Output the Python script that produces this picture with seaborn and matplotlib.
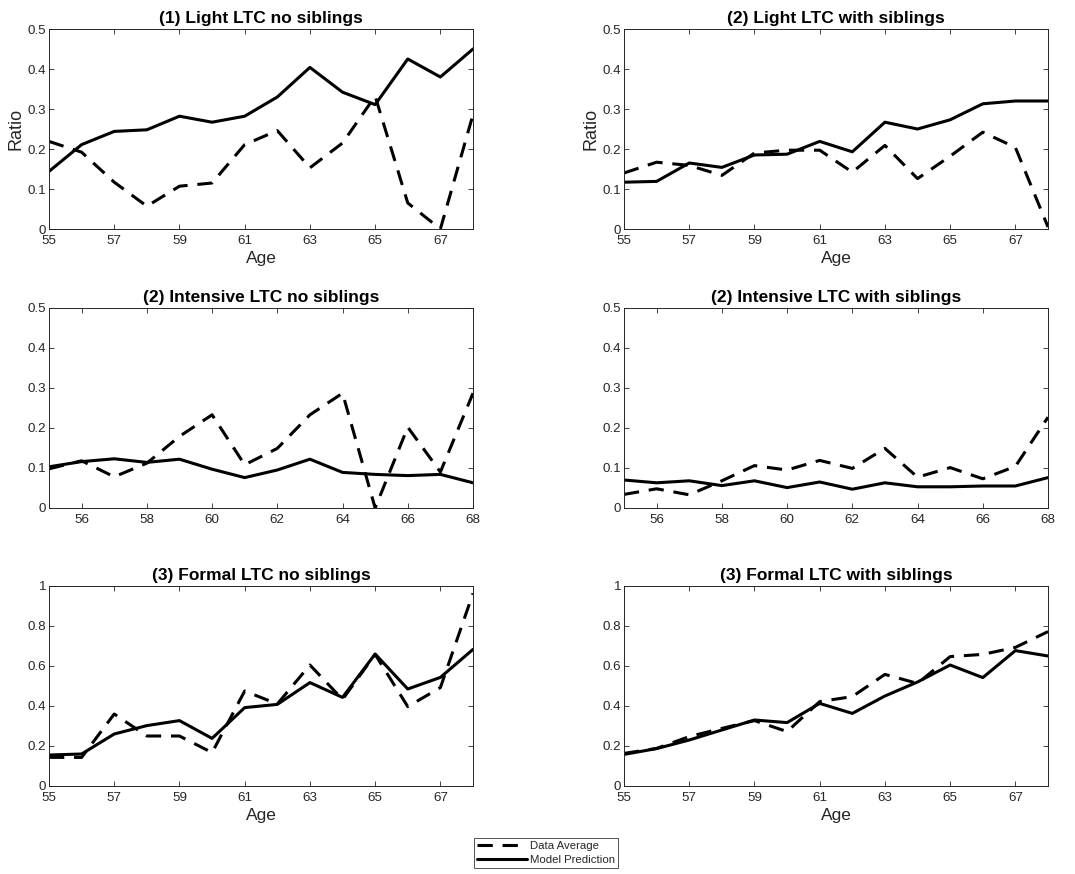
import numpy as np
import pandas as pd
import matplotlib
matplotlib.use("Agg")
import matplotlib.pyplot as plt
from matplotlib.lines import Line2D
import seaborn as sns

# Ages on the horizontal axis
ages = [55, 56, 57, 58, 59, 60, 61, 62, 63, 64, 65, 66, 67, 68]

# (1) Light LTC, no siblings
light_nosib_data = [0.219, 0.192, 0.117, 0.057, 0.107, 0.115, 0.211, 0.246, 0.153, 0.215, 0.332, 0.065, 0.0, 0.286]
light_nosib_model = [0.144, 0.211, 0.244, 0.248, 0.282, 0.267, 0.282, 0.330, 0.404, 0.342, 0.311, 0.425, 0.380, 0.450]

# (2) Light LTC, with siblings
light_sib_data = [0.140, 0.167, 0.159, 0.134, 0.190, 0.197, 0.197, 0.142, 0.209, 0.126, 0.182, 0.242, 0.204, 0.005]
light_sib_model = [0.117, 0.119, 0.165, 0.154, 0.185, 0.187, 0.219, 0.193, 0.267, 0.250, 0.273, 0.313, 0.320, 0.320]

# (2) Intensive LTC, no siblings
intens_nosib_data = [0.098, 0.118, 0.078, 0.112, 0.179, 0.233, 0.108, 0.149, 0.233, 0.287, 0.0, 0.202, 0.090, 0.287]
intens_nosib_model = [0.103, 0.116, 0.123, 0.114, 0.122, 0.097, 0.076, 0.095, 0.122, 0.089, 0.084, 0.081, 0.084, 0.063]

# (2) Intensive LTC, with siblings
intens_sib_data = [0.034, 0.048, 0.033, 0.068, 0.106, 0.095, 0.119, 0.099, 0.149, 0.077, 0.101, 0.073, 0.104, 0.227]
intens_sib_model = [0.070, 0.063, 0.068, 0.056, 0.068, 0.051, 0.065, 0.047, 0.063, 0.053, 0.053, 0.055, 0.055, 0.076]

# (3) Formal LTC, no siblings
formal_nosib_data = [0.143, 0.143, 0.360, 0.250, 0.250, 0.167, 0.475, 0.410, 0.605, 0.433, 0.658, 0.397, 0.492, 0.963]
formal_nosib_model = [0.155, 0.160, 0.260, 0.302, 0.327, 0.238, 0.392, 0.408, 0.517, 0.443, 0.660, 0.485, 0.543, 0.683]

# (3) Formal LTC, with siblings
formal_sib_data = [0.163, 0.188, 0.247, 0.288, 0.327, 0.272, 0.422, 0.447, 0.558, 0.513, 0.647, 0.658, 0.693, 0.772]
formal_sib_model = [0.158, 0.187, 0.230, 0.280, 0.330, 0.317, 0.413, 0.363, 0.450, 0.520, 0.605, 0.542, 0.677, 0.650]

titles = [
    "(1) Light LTC no siblings", "(2) Light LTC with siblings",
    "(2) Intensive LTC no siblings", "(2) Intensive LTC with siblings",
    "(3) Formal LTC no siblings", "(3) Formal LTC with siblings",
]
series_names = ["Data Average", "Model Prediction"]

panels = [
    (light_nosib_data, light_nosib_model),
    (light_sib_data, light_sib_model),
    (intens_nosib_data, intens_nosib_model),
    (intens_sib_data, intens_sib_model),
    (formal_nosib_data, formal_nosib_model),
    (formal_sib_data, formal_sib_model),
]

sns.set_theme(style="white")
plt.rcParams["font.family"] = ["Liberation Sans", "DejaVu Sans"]

W, H = 1075, 874
fig = plt.figure(figsize=(W / 100, H / 100), dpi=100)

# axes boxes in pixels: (left, top, width, height)
col_left = [49, 624]
row_top = [29, 308, 586]
ax_w, ax_h = 424, 200

grey = (0.15, 0.15, 0.15)
dash_pattern = (5, 3.2)
dash_map = {"Data Average": dash_pattern, "Model Prediction": ""}

for i, (title, (dvals, mvals)) in enumerate(zip(titles, panels)):
    r, c = divmod(i, 2)
    left, top = col_left[c], row_top[r]
    ax = fig.add_axes([left / W, 1 - (top + ax_h) / H, ax_w / W, ax_h / H])

    df = pd.DataFrame({
        "Age": ages * 2,
        "Ratio": list(dvals) + list(mvals),
        "Series": [series_names[0]] * len(ages) + [series_names[1]] * len(ages),
    })
    sns.lineplot(data=df, x="Age", y="Ratio", style="Series", dashes=dash_map,
                 color="black", linewidth=2.2, legend=False, ax=ax)

    ax.set_xlim(55, 68)
    if r == 1:
        ax.set_xticks([56, 58, 60, 62, 64, 66, 68])
    else:
        ax.set_xticks([55, 57, 59, 61, 63, 65, 67])
    if r == 2:
        ax.set_ylim(0, 1)
        yt = [0, 0.2, 0.4, 0.6, 0.8, 1]
    else:
        ax.set_ylim(0, 0.5)
        yt = [0, 0.1, 0.2, 0.3, 0.4, 0.5]
    ax.set_yticks(yt)
    ax.set_yticklabels(["0" if v == 0 else ("1" if v == 1 else f"{v:g}") for v in yt])

    ax.tick_params(direction="in", length=3.5, width=0.6, colors=grey,
                   labelsize=9.6, top=True, right=True, bottom=True, left=True)
    ax.tick_params(axis="x", pad=4.5)
    ax.tick_params(axis="y", pad=2)
    for s in ax.spines.values():
        s.set_color(grey)
        s.set_linewidth(0.7)
        s.set_visible(True)

    ax.set_title(title, fontsize=12.5, fontweight="bold", pad=4, color="black")
    if r == 0:
        ax.set_ylabel("Ratio", fontsize=13, color=grey, labelpad=2)
    else:
        ax.set_ylabel("")
    if r in (0, 2):
        ax.set_xlabel("Age", fontsize=12.5, color=grey, labelpad=2.5)
    else:
        ax.set_xlabel("")

handles = [
    Line2D([], [], color="black", linewidth=2.2, linestyle=(0, dash_pattern)),
    Line2D([], [], color="black", linewidth=2.2),
]
leg = fig.legend(handles, series_names, loc="center", bbox_to_anchor=(546 / W, 1 - 853 / H),
                 fontsize=8.2, frameon=True, fancybox=False, edgecolor=grey,
                 handlelength=4.4, handletextpad=0.2, borderpad=0.3, labelspacing=0.3,
                 borderaxespad=0)
leg.get_frame().set_linewidth(0.7)

fig.savefig("out.png", dpi=100, facecolor="white")
